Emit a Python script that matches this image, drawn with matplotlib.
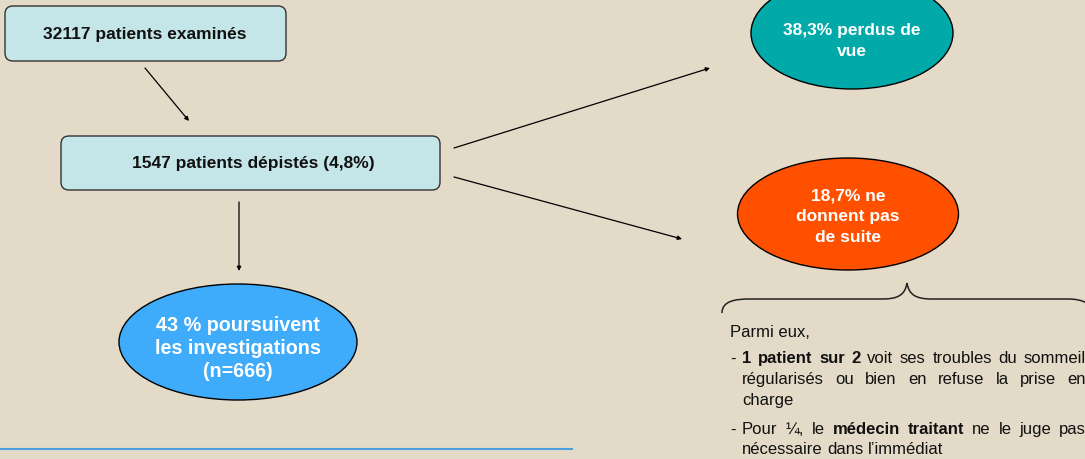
import matplotlib
matplotlib.use("Agg")
import matplotlib.pyplot as plt
from matplotlib.patches import FancyBboxPatch, Ellipse, PathPatch
from matplotlib.path import Path

plt.rcParams["font.family"] = ["Liberation Sans", "DejaVu Sans"]

# flow-chart content
n_examined = 32117
n_screened = 1547
pct_screened = "4,8"
pct_lost = "38,3"
pct_no_follow = "18,7"
pct_continue = "43"
n_continue = 666

box_labels = [f"{n_examined} patients examinés",
              f"{n_screened} patients dépistés ({pct_screened}%)"]
ellipse_labels = [f"{pct_continue} % poursuivent\nles investigations\n(n={n_continue})",
                  f"{pct_lost}% perdus de\nvue",
                  f"{pct_no_follow}% ne\ndonnent pas\nde suite"]

# note lines: list of words (text, bold?)
note_intro = "Parmi eux,"
note_p1 = [[("1", True), ("patient", True), ("sur", True), ("2", True), ("voit", False),
            ("ses", False), ("troubles", False), ("du", False), ("sommeil", False)],
           [(w, False) for w in "régularisés ou bien en refuse la prise en".split()],
           [("charge", False)]]
note_p2 = [[("Pour", False), ("¼,", False), ("le", False), ("médecin", True), ("traitant", True),
            ("ne", False), ("le", False), ("juge", False), ("pas", False)],
           [(w, False) for w in "nécessaire dans l’immédiat".split()]]

BG = "#e4dac8"
W, H = 1085, 460
fig = plt.figure(figsize=(W / 100, H / 100), dpi=100, facecolor=BG)
ax = fig.add_axes([0, 0, 1, 1])
ax.set_xlim(0, W)
ax.set_ylim(H, 0)
ax.axis("off")
ax.set_facecolor(BG)

# boxes
box_geo = [(5, 7, 281, 55), (61, 137, 379, 54)]
box_text = [(145, 35), (253, 164)]
for (x, y, w, h), (tx, ty), lab in zip(box_geo, box_text, box_labels):
    ax.add_patch(FancyBboxPatch((x + 8, y + 8), w - 16, h - 16,
                                boxstyle="round,pad=8", fc="#c5e6e8", ec="#333333", lw=1))
    ax.text(tx, ty, lab, ha="center", va="center", fontsize=12.5, fontweight="bold", color="#111111")

# ellipses
ell_geo = [((238, 343), 238, 116, "#3fabfb", 14.2, 23, (238, 349)),
           ((852, 34), 202, 112, "#02a9a9", 12.5, 21, (852, 41)),
           ((848, 215), 221, 112, "#ff5000", 12.5, 21, (848, 217))]
for (c, w, h, col, fs, ls, tpos), lab in zip(ell_geo, ellipse_labels):
    ax.add_patch(Ellipse(c, w, h, fc=col, ec="black", lw=1))
    lines = lab.split("\n")
    n = len(lines)
    for i, line in enumerate(lines):
        ax.text(tpos[0], tpos[1] + (i - (n - 1) / 2) * ls, line, ha="center", va="center",
                fontsize=fs, fontweight="bold", color="white")

# arrows
arrows = [((145, 69), (189, 122)), ((239, 203), (239, 272)),
          ((454, 149), (710, 69)), ((454, 178), (682, 240))]
for (x0, y0), (x1, y1) in arrows:
    ax.annotate("", xy=(x1, y1), xytext=(x0, y0),
                arrowprops=dict(arrowstyle="-|>", color="black", lw=0.9,
                                mutation_scale=6, shrinkA=0, shrinkB=0))

# brace
verts = [(722, 314), (722, 302), (735, 300), (750, 300),
         (882, 300),
         (898, 300), (905, 296), (907, 284),
         (909, 296), (916, 300), (932, 300),
         (1068, 300),
         (1083, 300), (1092, 305), (1095, 314)]
codes = [Path.MOVETO, Path.CURVE4, Path.CURVE4, Path.CURVE4,
         Path.LINETO,
         Path.CURVE4, Path.CURVE4, Path.CURVE4,
         Path.CURVE4, Path.CURVE4, Path.CURVE4,
         Path.LINETO,
         Path.CURVE4, Path.CURVE4, Path.CURVE4]
ax.add_patch(PathPatch(Path(verts, codes), fc="none", ec="#222222", lw=1.1, clip_on=False))

# note text with justification
renderer = fig.canvas.get_renderer()
FS = 12


def word_width(word, bold):
    t = ax.text(0, 0, word, fontsize=FS, fontweight="bold" if bold else "normal")
    wdt = t.get_window_extent(renderer).width
    t.remove()
    return wdt


space_w = word_width("a a", False) - word_width("aa", False)


def draw_line(words, x0, y, x1=None):
    widths = [word_width(w, b) for w, b in words]
    if x1 is not None and len(words) > 1:
        gap = (x1 - x0 - sum(widths)) / (len(words) - 1)
    else:
        gap = space_w
    x = x0
    for (w, b), wd in zip(words, widths):
        ax.text(x, y, w, fontsize=FS, fontweight="bold" if b else "normal",
                ha="left", va="center", color="#111111")
        x += wd + gap


ax.text(730, 333, note_intro, fontsize=FS, ha="left", va="center", color="#111111")
right = 1086
ys1 = [359, 380, 401]
ax.text(730, ys1[0], "-", fontsize=FS, ha="left", va="center", color="#111111")
for i, (line, y) in enumerate(zip(note_p1, ys1)):
    draw_line(line, 742, y, right if i < len(note_p1) - 1 else None)
ys2 = [430, 450]
ax.text(730, ys2[0], "-", fontsize=FS, ha="left", va="center", color="#111111")
for i, (line, y) in enumerate(zip(note_p2, ys2)):
    draw_line(line, 742, y, right if i < len(note_p2) - 1 else None)

# footer rule
ax.plot([0, 572], [450, 450], color="#4a9fde", lw=1.5)

fig.savefig("out.png", dpi=100, facecolor=BG)
